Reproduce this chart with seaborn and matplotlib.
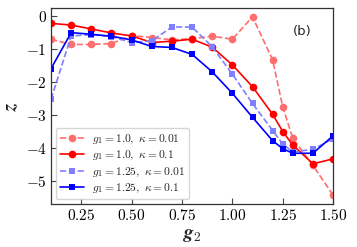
import numpy as np
import pandas as pd
import matplotlib
matplotlib.use("Agg")
import matplotlib.pyplot as plt
import seaborn as sns
from matplotlib.ticker import FuncFormatter

sns.set_theme(style="white")
plt.rcParams['font.family'] = ['DejaVu Sans']
plt.rcParams['mathtext.fontset'] = 'cm'

g2 = [0.1, 0.2, 0.3, 0.4, 0.5, 0.6, 0.7, 0.8, 0.9, 1.0, 1.1, 1.2, 1.25, 1.3, 1.4, 1.5]
z_g1_10_k001 = [-0.70, -0.86, -0.86, -0.83, -0.59, -0.65, -0.72, -0.68, -0.61, -0.70, -0.02, -1.33, -2.75, -3.71, -4.53, -5.43]
z_g1_10_k01 = [-0.22, -0.27, -0.39, -0.51, -0.60, -0.80, -0.76, -0.70, -0.94, -1.48, -2.14, -2.98, -3.50, -3.91, -4.48, -4.33]
z_g1_125_k001 = [-2.52, -0.60, -0.56, -0.62, -0.80, -0.75, -0.33, -0.33, -0.93, -1.76, -2.65, -3.47, -3.88, -4.12, -4.04, -3.72]
z_g1_125_k01 = [-1.59, -0.50, -0.55, -0.61, -0.72, -0.92, -0.95, -1.16, -1.69, -2.34, -3.07, -3.78, -4.02, -4.16, -4.16, -3.63]

labels = [r"$g_1 = 1.0,\ \kappa = 0.01$", r"$g_1 = 1.0,\ \kappa = 0.1$",
          r"$g_1 = 1.25,\ \kappa = 0.01$", r"$g_1 = 1.25,\ \kappa = 0.1$"]
xticks = [0.25, 0.50, 0.75, 1.00, 1.25, 1.50]
yticks = [0, -1, -2, -3, -4, -5]

fig = plt.figure(figsize=(3.57, 2.47), dpi=100)
ax = fig.add_axes([0.143, 0.174, 0.790, 0.794])

styles = [
    (z_g1_10_k001, '#ff6e6e', 'o', '--', 5.5),
    (z_g1_10_k01, '#ff0000', 'o', '-', 5.5),
    (z_g1_125_k001, '#7f7fff', 's', '--', 4.2),
    (z_g1_125_k01, '#0000ff', 's', '-', 4.2),
]
for (vals, col, mk, ls, ms), lab in zip(styles, labels):
    sns.lineplot(x=g2, y=vals, ax=ax, color=col, marker=mk, linestyle=ls,
                 markersize=ms, markeredgewidth=0, linewidth=1.2, label=lab)

ax.set_xlim(0.1, 1.5)
ax.set_ylim(-5.7, 0.25)
ax.set_xticks(xticks)
ax.set_yticks(yticks)
ax.xaxis.set_major_formatter(FuncFormatter(lambda v, p: r"$\mathbf{%.2f}$" % v))
ax.yaxis.set_major_formatter(FuncFormatter(lambda v, p: r"$\mathbf{%d}$" % v if v >= 0 else r"$\mathbf{-%d}$" % abs(v)))
ax.tick_params(axis='both', direction='in', length=4, width=0.8, labelsize=11,
               bottom=True, left=True, top=False, right=False, colors='#444444', labelcolor='black', pad=3)
for s in ax.spines.values():
    s.set_color('#333333')
    s.set_linewidth(0.9)

ax.set_xlabel(r"$\mathbfit{g}_\mathbf{2}$", fontsize=14, labelpad=1)
ax.set_ylabel(r"$\mathbfit{z}$", fontsize=14, labelpad=4)
ax.text(0.89, 0.88, "(b)", transform=ax.transAxes, ha='center', va='center', fontsize=9.5)

leg = ax.legend(loc='lower left', fontsize=8.3, frameon=True, handlelength=2.1,
                borderaxespad=0.4, labelspacing=0.2, borderpad=0.35, handletextpad=0.7)
leg.get_frame().set_edgecolor('#cccccc')

fig.savefig("out.png", dpi=100)
